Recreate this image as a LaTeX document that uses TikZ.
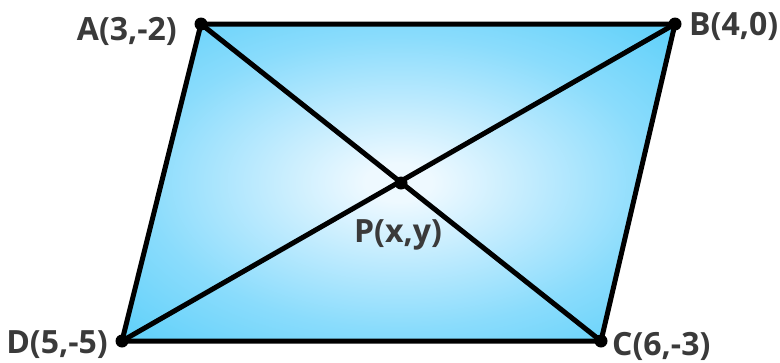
\documentclass[tikz,border=0pt]{standalone}
\usepackage{fontspec}
\setmainfont{Open Sans}
\definecolor{lblue0}{HTML}{EEF9FF}
\definecolor{lblue1}{HTML}{BCEAFE}
\definecolor{lblue2}{HTML}{8ADCFC}
\definecolor{lblue3}{HTML}{66D2FA}
\definecolor{labelgray}{HTML}{3A3A3A}
\pgfdeclareradialshading{pshade}{\pgfpoint{0bp}{0bp}}{color(0bp)=(lblue0); color(3bp)=(lblue0); color(13bp)=(lblue1); color(23bp)=(lblue2); color(33bp)=(lblue3); color(50bp)=(lblue3)}
\tikzset{
  edge/.style={line width=5pt, line join=miter},
  vdot/.style={circle, fill=black, inner sep=0pt, minimum size=13pt},
  lbl/.style={inner sep=0pt, text=labelgray, font=\bfseries\fontsize{32}{38}\selectfont}
}
\begin{document}
\begin{tikzpicture}[x=1pt,y=-1pt]
\useasboundingbox (0,0) rectangle (780,362);
\coordinate (A) at (201,24);
\coordinate (B) at (675,24);
\coordinate (C) at (601,341);
\coordinate (D) at (122,341);
\coordinate (P) at (401,183);
\shade[shading=pshade] (A) -- (B) -- (C) -- (D) -- cycle;
\draw[edge] (A) -- (B) -- (C) -- (D) -- cycle;
\draw[edge] (A) -- (C);
\draw[edge] (B) -- (D);
\node[vdot] (dA) at (A) {};
\node[vdot] (dB) at (B) {};
\node[vdot] (dC) at (C) {};
\node[vdot] (dD) at (D) {};
\node[vdot] (dP) at (P) {};
\node[lbl, anchor=base east] (lA) at (177,40) {A(3,-2)};
\node[lbl, anchor=base west] (lB) at (689,35) {B(4,0)};
\node[lbl, anchor=base west] (lC) at (612,355) {C(6,-3)};
\node[lbl, anchor=base east] (lD) at (108,353) {D(5,-5)};
\node[lbl, anchor=base] (lP) at (398,242) {P(x,y)};
\end{tikzpicture}
\end{document}
